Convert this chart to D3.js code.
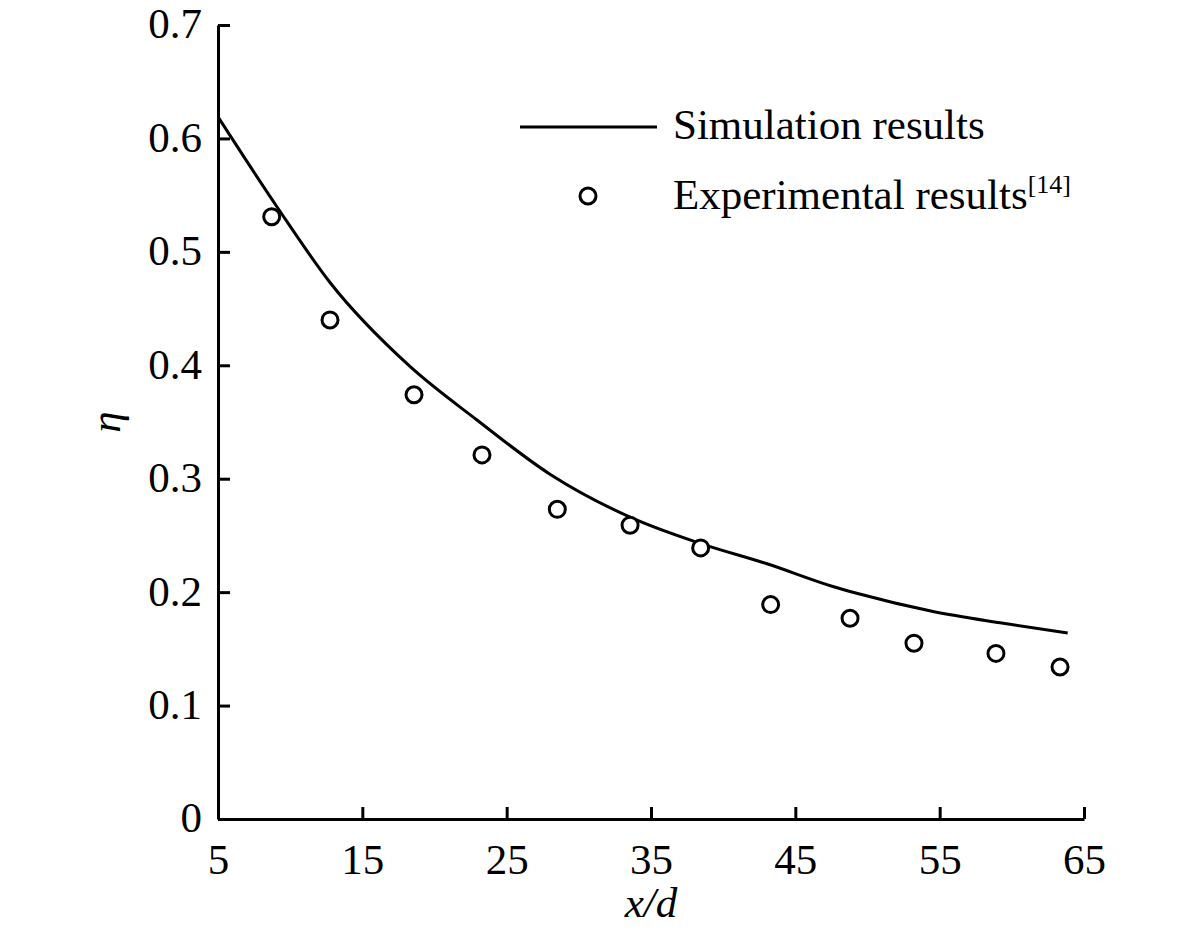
<!DOCTYPE html>
<html lang="en">
<head>
    <meta charset="UTF-8">
    <title>Film cooling effectiveness along x/d</title>
    <script src="https://d3js.org/d3.v7.min.js"></script>
    <style>
        body {
            margin: 0;
            background: #fff;
        }
        svg text {
            font-family: 'Liberation Serif', 'Times New Roman', serif;
            fill: #000;
        }
    </style>
</head>
<body>
    <svg width="1181" height="938"></svg>
    <script>
        // simulation curve (x/d, eta)
        const simX = [5, 9.07, 12.76, 18.3, 22.92, 28.0, 33.75, 38.4, 43.04, 47.6, 49.25, 54.54, 59.18, 63.87];
        const simEta = [0.619, 0.54, 0.473, 0.399, 0.352, 0.304, 0.265, 0.243, 0.225, 0.205, 0.199, 0.183, 0.173, 0.164];

        // experimental points [14]
        const expX = [8.72, 12.76, 18.58, 23.29, 28.51, 33.55, 38.44, 43.29, 48.79, 53.22, 58.9, 63.34];
        const expEta = [0.531, 0.44, 0.374, 0.321, 0.273, 0.259, 0.239, 0.189, 0.177, 0.155, 0.146, 0.134];

        const xTicks = [5, 15, 25, 35, 45, 55, 65];
        const yTicks = [0, 0.1, 0.2, 0.3, 0.4, 0.5, 0.6, 0.7];

        const margin = { top: 25, right: 97, bottom: 119, left: 218 },
            width = 1181 - margin.left - margin.right,
            height = 938 - margin.top - margin.bottom;

        const svg = d3.select("svg")
            .append("g")
            .attr("transform", `translate(${margin.left},${margin.top})`);

        const x = d3.scaleLinear().domain([5, 65]).range([0, width]);
        const y = d3.scaleLinear().domain([0, 0.7]).range([height, 0]);

        const fs = 43;

        const xAxis = svg.append("g")
            .attr("transform", `translate(0,${height})`)
            .call(d3.axisBottom(x).tickValues(xTicks).tickSizeInner(-12).tickSizeOuter(0).tickPadding(0)
                .tickFormat(d3.format("d")));
        xAxis.selectAll("text")
            .attr("y", 55)
            .attr("dy", null)
            .style("font-size", fs + "px");

        const yAxis = svg.append("g")
            .call(d3.axisLeft(y).tickValues(yTicks).tickSizeInner(-12).tickSizeOuter(0).tickPadding(16)
                .tickFormat(d => d === 0 ? "0" : d3.format(".1f")(d)));
        yAxis.selectAll("text")
            .attr("dy", "0.3em")
            .style("font-size", fs + "px");

        svg.selectAll(".domain, .tick line")
            .attr("stroke", "#000")
            .attr("stroke-width", 3);

        // axis titles
        svg.append("text")
            .attr("x", width / 2)
            .attr("y", height + 98)
            .attr("text-anchor", "middle")
            .style("font-size", fs + "px")
            .style("font-style", "italic")
            .text("x/d");

        svg.append("text")
            .attr("transform", `translate(${107 - margin.left},${422 - margin.top}) rotate(-90)`)
            .attr("text-anchor", "middle")
            .attr("dy", "0.3em")
            .style("font-size", fs + "px")
            .style("font-style", "italic")
            .text("η");

        // simulation line
        const simData = simX.map((v, i) => ({ x: v, y: simEta[i] }));
        const line = d3.line()
            .x(d => x(d.x))
            .y(d => y(d.y))
            .curve(d3.curveMonotoneX);

        svg.append("path")
            .datum(simData)
            .attr("fill", "none")
            .attr("stroke", "#000")
            .attr("stroke-width", 3)
            .attr("d", line);

        // experimental circles
        const expData = expX.map((v, i) => ({ x: v, y: expEta[i] }));
        svg.selectAll("circle.exp")
            .data(expData)
            .join("circle")
            .attr("class", "exp")
            .attr("cx", d => x(d.x))
            .attr("cy", d => y(d.y))
            .attr("r", 8)
            .attr("fill", "#fff")
            .attr("stroke", "#000")
            .attr("stroke-width", 3);

        // legend
        const legend = svg.append("g")
            .attr("transform", `translate(${520 - margin.left},${127 - margin.top})`);

        legend.append("line")
            .attr("x1", 0).attr("x2", 137)
            .attr("y1", 0).attr("y2", 0)
            .attr("stroke", "#000")
            .attr("stroke-width", 3);

        legend.append("text")
            .attr("x", 153)
            .attr("y", 12)
            .style("font-size", fs + "px")
            .text("Simulation results");

        legend.append("circle")
            .attr("cx", 68)
            .attr("cy", 69)
            .attr("r", 8)
            .attr("fill", "#fff")
            .attr("stroke", "#000")
            .attr("stroke-width", 3);

        const expLabel = legend.append("text")
            .attr("x", 153)
            .attr("y", 82)
            .style("font-size", fs + "px");
        expLabel.append("tspan").text("Experimental results");
        expLabel.append("tspan")
            .attr("dy", -16)
            .style("font-size", "26px")
            .text("[14]");
    </script>
</body>
</html>
